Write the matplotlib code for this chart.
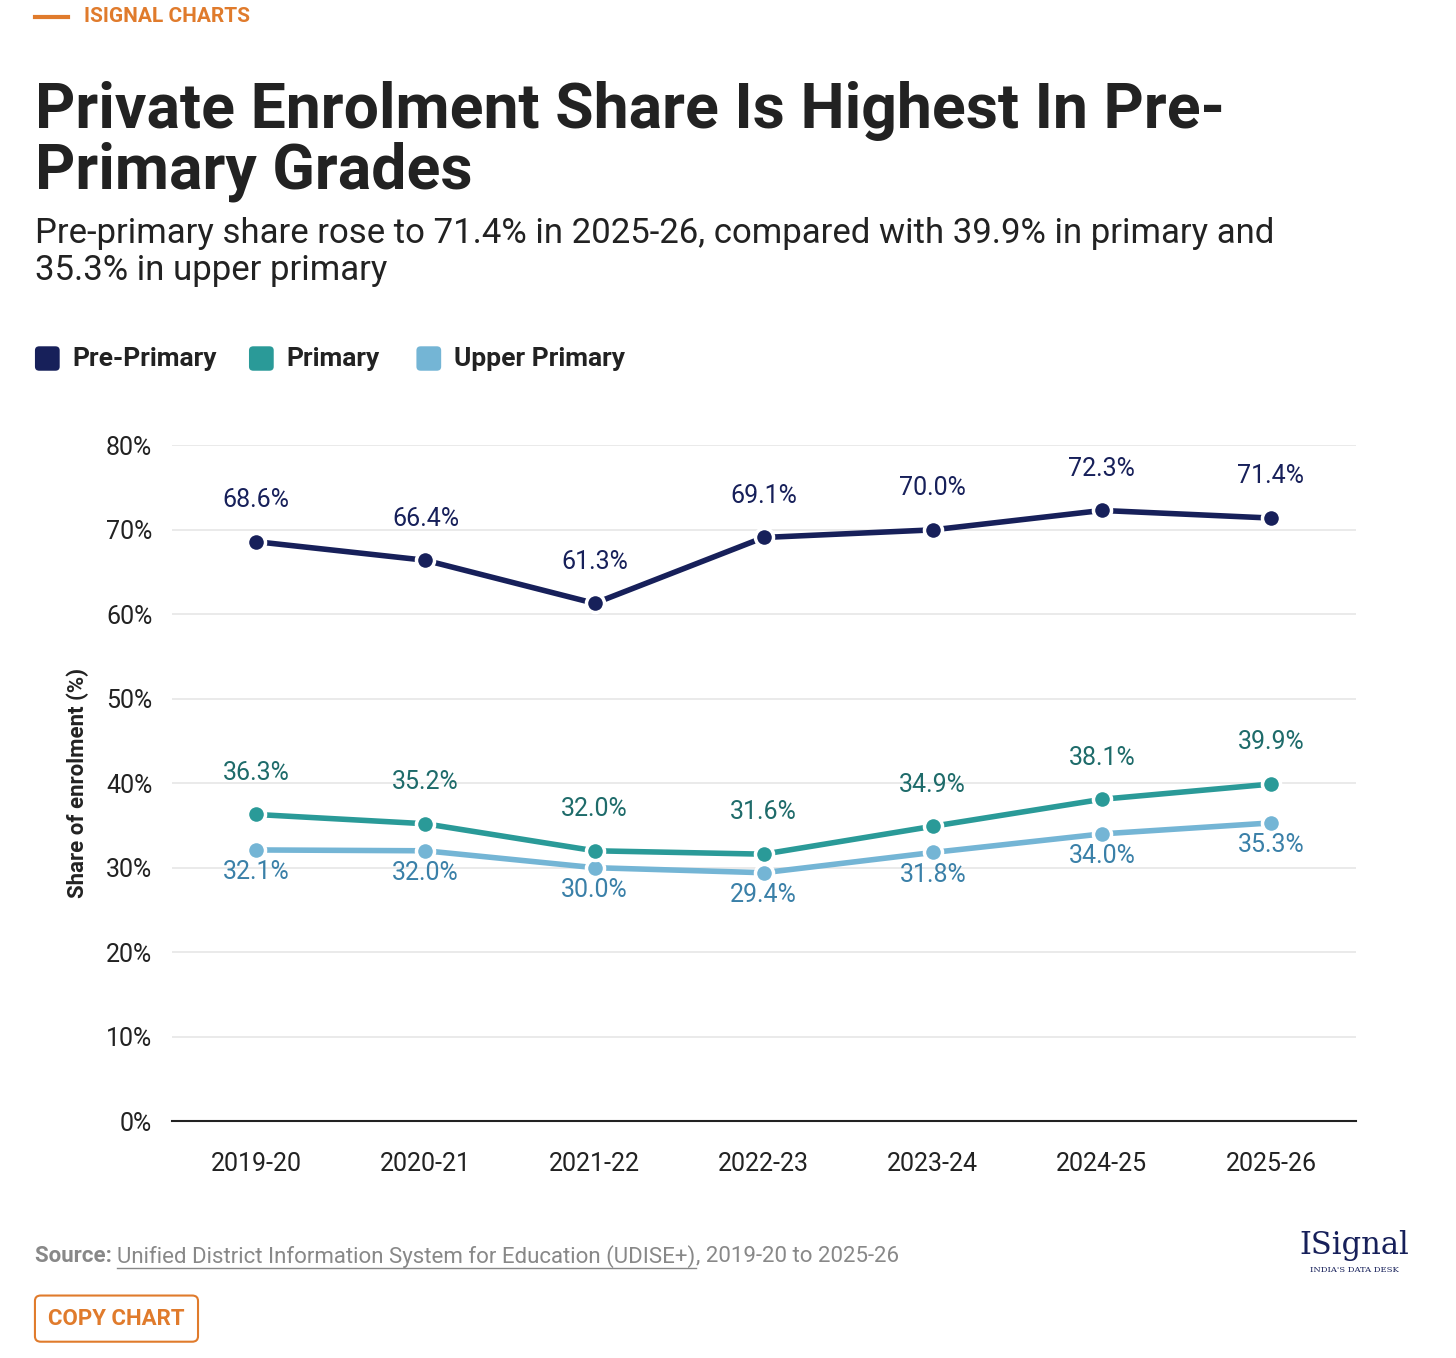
import matplotlib.pyplot as plt
from matplotlib.patches import FancyBboxPatch

plt.rcParams['font.family'] = ['Roboto', 'DejaVu Sans']

years = ['2019-20', '2020-21', '2021-22', '2022-23', '2023-24', '2024-25', '2025-26']
pre_primary = [68.6, 66.4, 61.3, 69.1, 70.0, 72.3, 71.4]
primary = [36.3, 35.2, 32.0, 31.6, 34.9, 38.1, 39.9]
upper_primary = [32.1, 32.0, 30.0, 29.4, 31.8, 34.0, 35.3]
yticks = [0, 10, 20, 30, 40, 50, 60, 70, 80]

NAVY = '#17205a'
TEAL = '#2a9a98'
LIGHT = '#74b5d5'
TEAL_TXT = '#1e6b6a'
LIGHT_TXT = '#3a80a8'

fig = plt.figure(figsize=(14.56, 13.58), dpi=100)
ax = fig.add_axes([0.118, 0.1745, 0.813, 0.4975])

x = range(len(years))
series = [
    (upper_primary, LIGHT, LIGHT_TXT, -1),
    (primary, TEAL, TEAL_TXT, 1),
    (pre_primary, NAVY, NAVY, 1),
]
for vals, col, tcol, side in series:
    ax.plot(x, vals, color=col, lw=4, marker='o', ms=13, mec='white', mew=2.5, clip_on=False, zorder=3)
    for i, v in zip(x, vals):
        ax.annotate(f'{v:.1f}%', (i, v), xytext=(0, 30 if side > 0 else -16), textcoords='offset points',
                    ha='center', va='center', fontsize=18, color=tcol)

ax.set_xlim(-0.5, 6.5)
ax.set_ylim(0, 80)
ax.set_yticks(yticks)
ax.set_yticklabels([f'{t}%' for t in yticks], fontsize=18, color='#222222')
ax.set_xticks(list(x))
ax.set_xticklabels(years, fontsize=18, color='#222222')
ax.tick_params(length=0, pad=14)
ax.tick_params(axis='x', pad=22)
ax.grid(axis='y', color='#e6e6e6', lw=1.2)
ax.set_axisbelow(True)
for s in ['top', 'right', 'left']:
    ax.spines[s].set_visible(False)
ax.spines['bottom'].set_color('#222222')
ax.spines['bottom'].set_linewidth(1.5)
ax.set_ylabel('Share of enrolment (%)', fontsize=16, fontweight='bold', color='#222222', labelpad=12)

# header
fig.add_artist(plt.Line2D([0.024, 0.047], [0.9875, 0.9875], color='#e07b2c', lw=3))
fig.text(0.058, 0.9875, 'ISIGNAL CHARTS', fontsize=15, fontweight='bold', color='#e07b2c', va='center')
fig.text(0.024, 0.94, 'Private Enrolment Share Is Highest In Pre-\nPrimary Grades', fontsize=45,
         fontweight='bold', color='#222222', va='top', linespacing=1.0)
fig.text(0.024, 0.84, 'Pre-primary share rose to 71.4% in 2025-26, compared with 39.9% in primary and\n35.3% in upper primary',
         fontsize=25, color='#222222', va='top', linespacing=1.15)

# legend
legend_items = [('Pre-Primary', NAVY, 0.024), ('Primary', TEAL, 0.171), ('Upper Primary', LIGHT, 0.286)]
for name, col, lx in legend_items:
    fig.add_artist(FancyBboxPatch((lx, 0.727), 0.017, 0.018, boxstyle='round,pad=0,rounding_size=0.003',
                                  fc=col, ec='none', transform=fig.transFigure))
    fig.text(lx + 0.026, 0.736, name, fontsize=19, fontweight='bold', color='#222222', va='center')

# footer: place pieces next to each other
fig.canvas.draw()
r = fig.canvas.get_renderer()
inv = fig.transFigure.inverted()
t1 = fig.text(0.024, 0.075, 'Source: ', fontsize=16, fontweight='bold', color='#888888', va='center')
x1 = inv.transform(t1.get_window_extent(r))[1][0]
t2 = fig.text(x1, 0.075, 'Unified District Information System for Education (UDISE+)', fontsize=16,
              color='#888888', va='center')
bb2 = inv.transform(t2.get_window_extent(r))
fig.add_artist(plt.Line2D([x1, bb2[1][0]], [bb2[0][1], bb2[0][1]], color='#888888', lw=1))
fig.text(bb2[1][0], 0.075, ', 2019-20 to 2025-26', fontsize=16, color='#888888', va='center')
fig.text(0.93, 0.083, 'ISignal', fontsize=22, family='DejaVu Serif', color='#17205a', ha='center', va='center')
fig.text(0.93, 0.065, "INDIA'S DATA DESK", fontsize=6, family='DejaVu Serif', color='#17205a', ha='center', va='center')
fig.add_artist(FancyBboxPatch((0.024, 0.012), 0.112, 0.034, boxstyle='round,pad=0,rounding_size=0.004',
                              fc='white', ec='#e07b2c', lw=1.5, transform=fig.transFigure))
fig.text(0.080, 0.029, 'COPY CHART', fontsize=16, fontweight='bold', color='#e07b2c', ha='center', va='center')

fig.savefig('out.png', dpi=100, facecolor='white')
